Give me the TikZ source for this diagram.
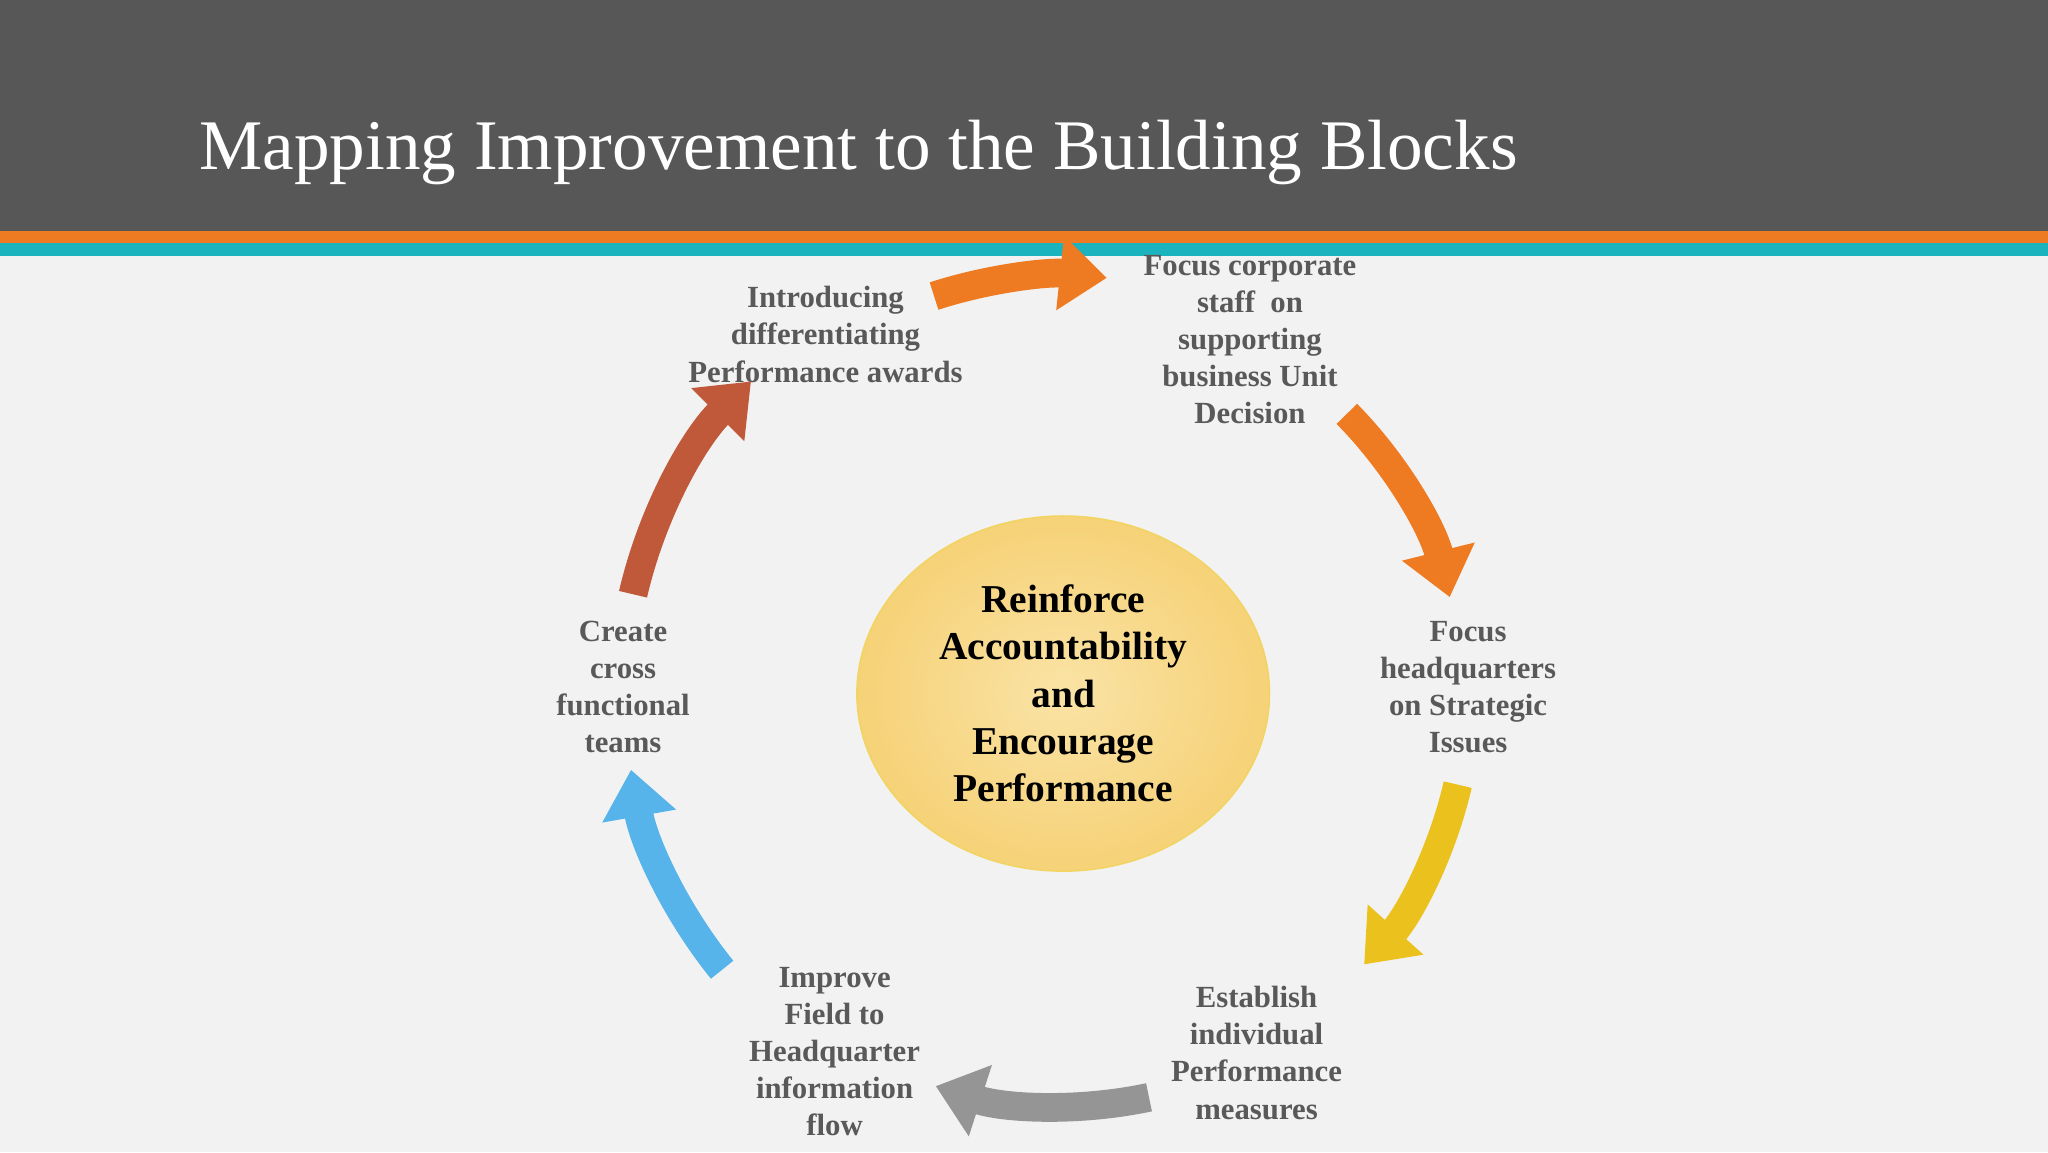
\documentclass[tikz,border=0pt]{standalone}
\usepackage{fontspec}
\setmainfont{Liberation Serif}
\usetikzlibrary{arrows.meta,calc,shapes.geometric}
\definecolor{hdr}{HTML}{575757}
\definecolor{bg}{HTML}{F2F2F2}
\definecolor{txt}{HTML}{595959}
\definecolor{corange}{HTML}{EE7B22}
\definecolor{cyellow}{HTML}{EBC11E}
\definecolor{cgray}{HTML}{959595}
\definecolor{cblue}{HTML}{56B4EA}
\definecolor{crust}{HTML}{C0583A}
\definecolor{cteal}{HTML}{1BB3BD}
\definecolor{ein}{HTML}{FAE3A6}
\definecolor{eout}{HTML}{F6D277}
\tikzset{
 lab/.style={align=center,text=txt,font=\fontsize{6.7}{8.1}\selectfont\bfseries,inner sep=0pt},
 cyc/.style={line width=0.22cm,-{Triangle[width=0.55cm,length=0.36cm]}}
}
\begin{document}
\begin{tikzpicture}
\fill[bg] (0,0) rectangle (15.68,8.82);
\useasboundingbox (0,0) rectangle (15.68,8.82);
\fill[hdr] (0,8.82-1.77) rectangle (15.68,8.82);
\fill[corange] (0,8.82-1.86) rectangle (15.68,8.82-1.77);
\fill[cteal] (0,8.82-1.96) rectangle (15.68,8.82-1.86);
\node[anchor=base west,text=white,font=\fontsize{15.5}{18}\selectfont,inner sep=0pt] (title) at (1.52,8.82-1.30) {Mapping Improvement to the Building Blocks};
\node[ellipse,minimum width=3.16cm,minimum height=2.72cm,draw=cyellow!70,line width=0.3pt,inner color=ein,outer color=eout] (c) at (8.14,8.82-5.31) {};
\node[lab,font=\fontsize{8.6}{10.3}\selectfont\bfseries,text=black] (ct) at (c) {Reinforce\\Accountability\\and\\Encourage\\Performance};
\node[lab] (t1) at (6.32,8.82-2.56) {Introducing\\differentiating\\Performance awards};
\node[lab] (t2) at (9.57,8.82-2.60) {Focus corporate\\staff\ \ on\\supporting\\business Unit\\Decision};
\node[lab] (t3) at (11.24,8.82-5.26) {Focus\\headquarters\\on Strategic\\Issues};
\node[lab] (t4) at (9.62,8.82-8.06) {Establish\\individual\\Performance\\measures};
\node[lab] (t5) at (6.39,8.82-8.05) {Improve\\Field to\\Headquarter\\information\\flow};
\node[lab] (t6) at (4.77,8.82-5.26) {Create\\cross\\functional\\teams};
\draw[cyc,corange] ($(c)+(108:3.2)$) arc[start angle=108,end angle=84,radius=3.2];
\draw[cyc,corange] ($(c)+(44.6:3.05)$) arc[start angle=44.6,end angle=14,radius=3.05];
\draw[cyc,cyellow] ($(c)+(-13:3.1)$) arc[start angle=-13,end angle=-42,radius=3.1];
\draw[cyc,cgray] ($(c)+(-78:3.16)$) arc[start angle=-78,end angle=-108,radius=3.16];
\draw[cyc,cblue] ($(c)+(-141:3.36)$) arc[start angle=-141,end angle=-170,radius=3.36];
\draw[cyc,crust] ($(c)+(167:3.38)$) arc[start angle=167,end angle=135,radius=3.38];
\end{tikzpicture}
\end{document}
